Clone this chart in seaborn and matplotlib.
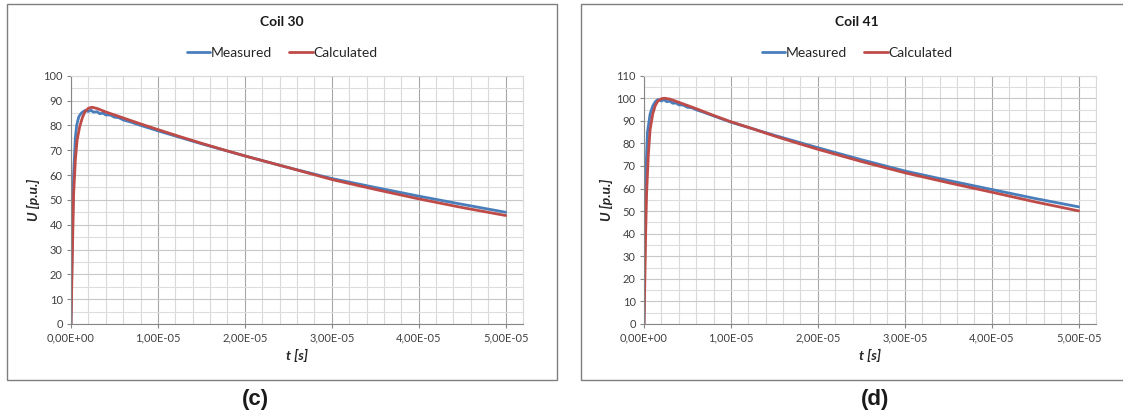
import numpy as np
import pandas as pd
import matplotlib
matplotlib.use("Agg")
import matplotlib.pyplot as plt
import seaborn as sns
from matplotlib.patches import Rectangle
from matplotlib.ticker import MultipleLocator, FuncFormatter

# data, time in units of 1e-5 s
t_meas_30 = [0, 0.01, 0.02, 0.03, 0.05, 0.065, 0.09, 0.12, 0.16, 0.2, 0.23, 0.26, 0.3, 0.33, 0.37,
             0.4, 0.45, 0.5, 0.55, 0.6, 0.7, 0.8, 1.0, 1.5, 2.0, 2.5, 3.0, 3.5, 4.0, 4.5, 5.0]
u_meas_30 = [0, 25, 45, 60, 75, 80, 83.5, 85, 86.0, 85.6, 86.1, 85.3, 85.5, 84.7, 84.9,
             84.2, 84.2, 83.3, 83.1, 82.2, 81.2, 80.0, 77.8, 72.6, 67.7, 63.0, 58.6, 55.0, 51.5, 48.2, 45.0]
t_calc_30 = [0, 0.01, 0.02, 0.03, 0.05, 0.07, 0.1, 0.13, 0.16, 0.2, 0.24, 0.3, 0.4, 0.5, 0.6,
             0.8, 1.0, 1.25, 1.5, 1.75, 2.0, 2.5, 3.0, 3.5, 4.0, 4.5, 5.0]
u_calc_30 = [0, 18, 36, 52, 66, 74, 79.5, 83, 85.5, 86.9, 87.3, 86.8, 85.4, 84.2, 83.0,
             80.6, 78.3, 75.5, 72.8, 70.2, 67.7, 63.0, 58.2, 54.2, 50.4, 46.9, 43.7]

t_meas_41 = [0, 0.01, 0.02, 0.04, 0.07, 0.1, 0.13, 0.16, 0.2, 0.23, 0.26, 0.3, 0.33, 0.37,
             0.4, 0.45, 0.5, 0.55, 0.6, 0.7, 0.8, 1.0, 1.5, 2.0, 2.5, 3.0, 3.5, 4.0, 4.5, 5.0]
u_meas_41 = [0, 40, 65, 85, 93, 96.5, 98.5, 99.4, 98.8, 99.4, 98.5, 98.7, 97.8, 97.9,
             97.1, 97.0, 96.0, 95.8, 94.9, 93.6, 92.2, 89.4, 83.6, 78.1, 72.8, 67.8, 63.6, 59.6, 55.6, 51.9]
t_calc_41 = [0, 0.01, 0.02, 0.03, 0.05, 0.07, 0.1, 0.13, 0.16, 0.2, 0.24, 0.3, 0.4, 0.5, 0.6,
             0.8, 1.0, 1.25, 1.5, 1.75, 2.0, 2.5, 3.0, 3.5, 4.0, 4.5, 5.0]
u_calc_41 = [0, 20, 42, 58, 75, 86, 93, 96.8, 98.8, 99.8, 100.0, 99.6, 98.2, 96.8, 95.4,
             92.4, 89.6, 86.5, 83.3, 80.3, 77.4, 72.0, 67.0, 62.6, 58.4, 54.1, 50.1]

titles = ["Coil 30", "Coil 41"]
panel_tags = ["(c)", "(d)"]
y_max = [100, 110]

sns.set_style("white")
plt.rcParams["font.family"] = ["Lato", "DejaVu Sans"]

blue = "#4A7EBB"
red = "#BE4B48"

fig = plt.figure(figsize=(11.23, 4.18), dpi=100)
W, H = 1123, 418


def fx(px):
    return px / W


def fy(px):
    return 1 - px / H


sci_fmt = FuncFormatter(lambda v, pos: f"{v * 1e-5:.2E}".replace(".", ","))

panels = [
    (t_meas_30, u_meas_30, t_calc_30, u_calc_30, 71, 7, 282, 255),
    (t_meas_41, u_meas_41, t_calc_41, u_calc_41, 644, 581, 857, 875),
]

for i, (tm, um, tc, uc, ax_left, box_left, center, tag_x) in enumerate(panels):
    fig.add_artist(Rectangle((fx(box_left), fy(380)), fx(550), 376 / H,
                             transform=fig.transFigure, fill=False,
                             edgecolor="#7F7F7F", lw=1.0))
    ax = fig.add_axes([fx(ax_left), fy(324), fx(452), 248.3 / H])

    df = pd.concat([
        pd.DataFrame({"t": tm, "U": um, "series": "Measured"}),
        pd.DataFrame({"t": tc, "U": uc, "series": "Calculated"}),
    ])
    sns.lineplot(data=df, x="t", y="U", hue="series", palette=[blue, red],
                 lw=2.0, sort=False, ax=ax, legend=False)

    ax.set_xlim(0, 5.2)
    ax.set_ylim(0, y_max[i])
    ax.xaxis.set_major_locator(MultipleLocator(1))
    ax.xaxis.set_minor_locator(MultipleLocator(0.2))
    ax.yaxis.set_major_locator(MultipleLocator(10))
    ax.yaxis.set_minor_locator(MultipleLocator(5))
    ax.xaxis.set_major_formatter(sci_fmt)
    ax.grid(which="major", axis="x", color="#A6A6A6", lw=0.8)
    ax.grid(which="minor", axis="x", color="#D9D9D9", lw=0.8)
    ax.grid(which="major", axis="y", color="#C8C8C8", lw=0.8)
    ax.grid(which="minor", axis="y", color="#DDDDDD", lw=0.8)
    ax.set_axisbelow(True)
    for s in ["top", "right"]:
        ax.spines[s].set_color("#D9D9D9")
    for s in ["left", "bottom"]:
        ax.spines[s].set_color("#868686")
        ax.spines[s].set_linewidth(0.8)
    ax.tick_params(which="major", direction="out", length=3, width=0.8,
                   color="#868686", labelsize=8, labelcolor="#404040", pad=3,
                   bottom=True, left=True)
    ax.tick_params(which="minor", length=0)

    ax.set_xlabel("t [s]", fontsize=10, fontweight="bold", fontstyle="italic",
                  color="#262626", labelpad=4)
    ax.set_ylabel("U [p.u.]", fontsize=10, fontweight="bold", fontstyle="italic",
                  color="#262626", labelpad=2)

    fig.text(fx(center), fy(22), titles[i], ha="center", va="center",
             fontsize=10, fontweight="bold", color="#1A1A1A")

    # legend drawn centred in the chart area
    handles = [plt.Line2D([], [], color=blue, lw=2.0),
               plt.Line2D([], [], color=red, lw=2.0)]
    fig.legend(handles, ["Measured", "Calculated"], loc="center",
               bbox_to_anchor=(fx(center), fy(53)), ncol=2, frameon=False,
               fontsize=10, handlelength=1.7, handletextpad=0.05,
               columnspacing=1.2, labelcolor="#262626")

    fig.text(fx(tag_x), fy(399), panel_tags[i], ha="center", va="center",
             fontsize=16, fontweight="bold", family=["Liberation Sans", "DejaVu Sans"],
             color="#1A1A1A")

fig.savefig("out.png", dpi=100, facecolor="white")
